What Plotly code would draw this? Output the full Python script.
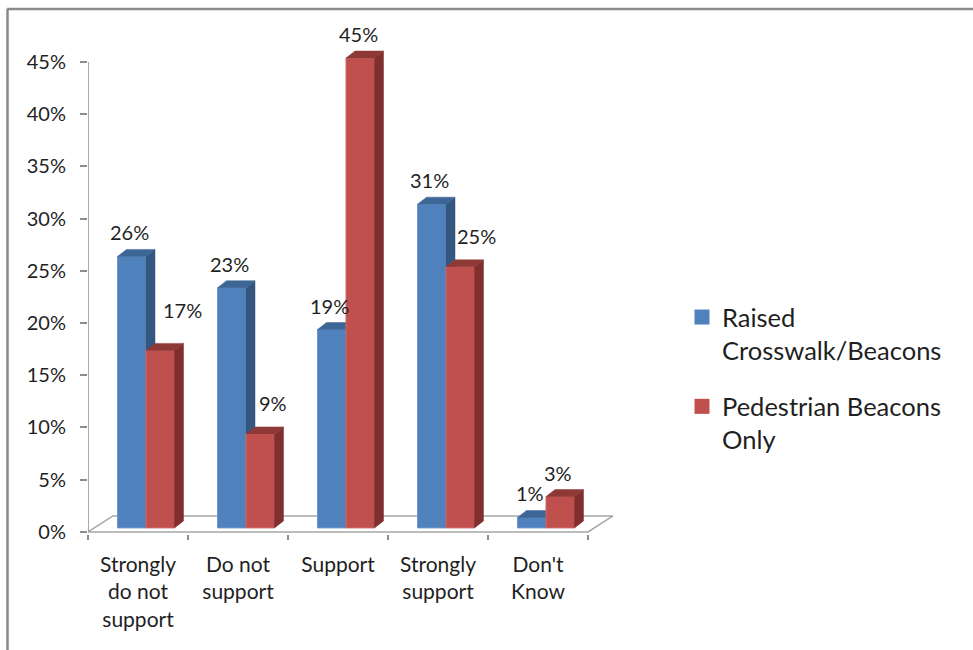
import plotly.graph_objects as go

# Survey responses (percent of respondents)
categories = ["Strongly<br>do not<br>support", "Do not<br>support", "Support",
              "Strongly<br>support", "Don't<br>Know"]
raised_crosswalk = [26, 23, 19, 31, 1]
pedestrian_beacons = [17, 9, 45, 25, 3]
series_names = ["Raised<br>Crosswalk/Beacons", "Pedestrian Beacons<br>Only"]
y_ticks = [0, 5, 10, 15, 20, 25, 30, 35, 40, 45]

# ---- canvas geometry (pixels) ----
W, H = 973, 650
PX_X = 100.0            # pixels per category unit
PX_Y = 470.0 / 45.0     # pixels per percentage point
X0_PX, Y0_PX = 88, 532  # pixel position of (x=-0.5, y=0)
X_RANGE = [-0.5, 4.8]
Y_MIN = -0.2
TOP_PX = 46
Y_RANGE = [Y_MIN, (Y0_PX - TOP_PX) / PX_Y]

plot_w = (X_RANGE[1] - X_RANGE[0]) * PX_X
plot_h = (Y_RANGE[1] - Y_RANGE[0]) * PX_Y
margin_l = X0_PX
margin_r = W - margin_l - plot_w
margin_t = TOP_PX
margin_b = H - margin_t - plot_h


def paper_x(px):
    return (px - margin_l) / plot_w


def paper_y(py):
    return (H - margin_b - py) / plot_h


# ---- 3-D look ----
FLOOR_DX, FLOOR_DY = 0.25, 16 / PX_Y     # floor depth offset
BAR_DX, BAR_DY = 0.09, 7 / PX_Y          # bar depth offset
BAR_BASE = 4 / PX_Y                      # bars stand slightly behind the front edge
BAR_W = 0.285
GROUP_SHIFT = 0.08

BLUE = dict(front="#4F81BD", side="#34577F", top="#3D6696", edge="#6F97C9")
RED = dict(front="#C0504D", side="#7F2F2D", top="#8E3936", edge="#CC6B68")

FONT = "Lato, 'Open Sans', sans-serif"
TEXT = "#1F1F1F"
GREY = "#8C8C8C"

fig = go.Figure()

# floor
fx = [-0.5, -0.5 + FLOOR_DX, 4.5 + FLOOR_DX, 4.5, -0.5]
fy = [0, FLOOR_DY, FLOOR_DY, 0, 0]
fig.add_trace(go.Scatter(x=fx, y=fy, mode="lines", fill="toself",
                         fillcolor="white", line=dict(color="#A6A6A6", width=1.5),
                         hoverinfo="skip", showlegend=False))


def faces(values, left_off):
    front_x, front_y, side_x, side_y, top_x, top_y = [], [], [], [], [], []
    for i, v in enumerate(values):
        xl = i + left_off
        xr = xl + BAR_W
        b = BAR_BASE
        t = BAR_BASE + v
        front_x += [xl, xr, xr, xl, xl, None]
        front_y += [b, b, t, t, b, None]
        side_x += [xr, xr + BAR_DX, xr + BAR_DX, xr, xr, None]
        side_y += [b, b + BAR_DY, t + BAR_DY, t, b, None]
        top_x += [xl, xr, xr + BAR_DX, xl + BAR_DX, xl, None]
        top_y += [t, t, t + BAR_DY, t + BAR_DY, t, None]
    return (front_x, front_y), (side_x, side_y), (top_x, top_y)


def add_bars(values, left_off, pal):
    (fxs, fys), (sxs, sys_), (txs, tys) = faces(values, left_off)
    fig.add_trace(go.Scatter(x=fxs, y=fys, mode="lines", fill="toself",
                             fillcolor=pal["front"], line=dict(color=pal["edge"], width=1),
                             hoverinfo="skip", showlegend=False))
    fig.add_trace(go.Scatter(x=sxs, y=sys_, mode="lines", fill="toself",
                             fillcolor=pal["side"], line=dict(color=pal["side"], width=0.5),
                             hoverinfo="skip", showlegend=False))
    fig.add_trace(go.Scatter(x=txs, y=tys, mode="lines", fill="toself",
                             fillcolor=pal["top"], line=dict(color=pal["top"], width=0.5),
                             hoverinfo="skip", showlegend=False))


add_bars(raised_crosswalk, GROUP_SHIFT - BAR_W, BLUE)
add_bars(pedestrian_beacons, GROUP_SHIFT, RED)

# legend entries
for k, (name, pal) in enumerate(zip(series_names, [BLUE, RED])):
    fig.add_trace(go.Scatter(x=[None], y=[None], mode="markers", name=name,
                             legendgroup=f"g{k}",
                             marker=dict(symbol="square", size=15, color=pal["front"])))

# data labels
blue_label_shift = [(0, 0), (0, 0), (0, 0), (0, 0), (0, 0)]
red_label_shift = [(24, 16), (15, 7), (0, 0), (18, 7), (0, 0)]
for i, (vb, vr) in enumerate(zip(raised_crosswalk, pedestrian_beacons)):
    for v, left_off, (sx, sy) in [(vb, GROUP_SHIFT - BAR_W, blue_label_shift[i]),
                                  (vr, GROUP_SHIFT, red_label_shift[i])]:
        fig.add_annotation(x=i + left_off + BAR_W / 2, y=BAR_BASE + v,
                           text=f"{v}%", showarrow=False, xanchor="center",
                           yanchor="middle", xshift=sx - 2, yshift=24 + sy,
                           font=dict(family=FONT, size=20, color=TEXT))

# value axis line
fig.add_shape(type="line", xref="x", yref="y", x0=-0.5, x1=-0.5, y0=0, y1=45,
              line=dict(color=GREY, width=1.5))

# chart frame (top and left edges)
fig.add_shape(type="line", xref="paper", yref="paper",
              x0=paper_x(7), x1=paper_x(W + 5), y0=paper_y(9), y1=paper_y(9),
              line=dict(color="#8A8A8A", width=2.5))
fig.add_shape(type="line", xref="paper", yref="paper",
              x0=paper_x(7.5), x1=paper_x(7.5), y0=paper_y(9), y1=paper_y(H + 5),
              line=dict(color="#8A8A8A", width=2.5))

fig.update_layout(
    width=W, height=H,
    margin=dict(l=margin_l, r=margin_r, t=margin_t, b=margin_b, pad=0),
    paper_bgcolor="white", plot_bgcolor="rgba(0,0,0,0)",
    showlegend=True,
    legend=dict(x=paper_x(682), y=paper_y(294), xanchor="left", yanchor="top",
                font=dict(family=FONT, size=25.5, color=TEXT), valign="top",
                tracegroupgap=20, bgcolor="rgba(0,0,0,0)", itemwidth=30),
    xaxis=dict(range=X_RANGE, tickvals=list(range(len(categories))), ticktext=categories,
               ticks="", showline=False, showgrid=False, zeroline=False,
               tickfont=dict(family=FONT, size=21, color=TEXT),
               ticklabelstandoff=16, fixedrange=True),
    xaxis2=dict(range=X_RANGE, overlaying="x", anchor="y", side="bottom",
                tickvals=[k - 0.5 for k in range(len(categories) + 1)],
                showticklabels=False, ticks="outside", ticklen=5, tickwidth=1.5,
                tickcolor=GREY, showline=False, showgrid=False, zeroline=False),
    yaxis=dict(range=Y_RANGE, tickvals=y_ticks, ticktext=[f"{t}%" for t in y_ticks],
               ticks="outside", ticklen=7, tickwidth=1.5, tickcolor=GREY,
               showline=False, showgrid=False, zeroline=False,
               tickfont=dict(family=FONT, size=20, color=TEXT),
               ticklabelstandoff=10, fixedrange=True),
)

# ensure the overlay axis is drawn
fig.add_trace(go.Scatter(x=[None], y=[None], xaxis="x2", yaxis="y",
                         showlegend=False, hoverinfo="skip"))

fig.write_html("out.html")
